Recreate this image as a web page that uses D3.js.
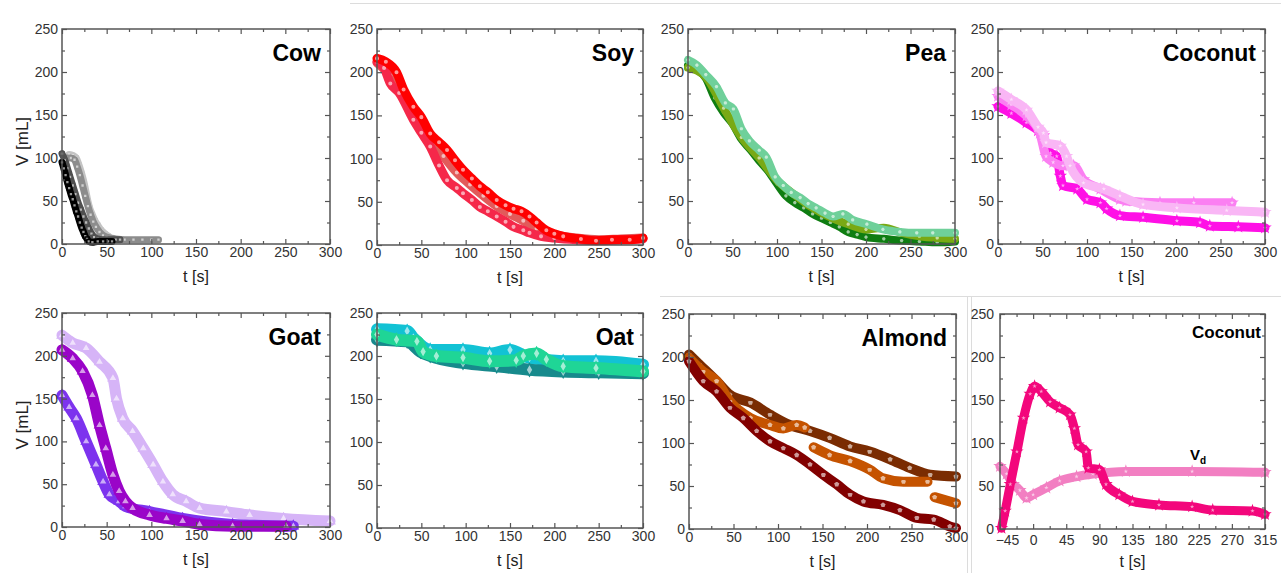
<!DOCTYPE html>
<html>
<head>
<meta charset="utf-8">
<script src="https://cdn.jsdelivr.net/npm/d3@7"></script>
<style>
  body { margin: 0; background: #fff; }
  svg { display: block; }
  text { font-family: Arial, "Liberation Sans", sans-serif; }
</style>
</head>
<body>
<svg id="fig" width="1281" height="573"></svg>
<script>
// ---- tick labels ----
const tTicks = [0, 50, 100, 150, 200, 250, 300];
const tTicksShift = [-45, 0, 45, 90, 135, 180, 225, 270, 315];
const vTicks = [0, 50, 100, 150, 200, 250];

// ---- drained volume V [mL] against time t [s]; each row is [t, V], null V = gap ----
const cowBlack = [[0,95],[2,88],[4,80],[6,72],[8,65],[10,58],[12,52],[14,45],[16,38],[18,32],[20,25],[22,19],[24,14],[26,9],[28,6],[30,3],[34,2],[40,3],[46,3],[52,3],[56,3]];
const cowDark  = [[0,105],[3,98],[6,88],[9,78],[12,68],[15,58],[18,48],[21,40],[24,32],[27,25],[30,18],[33,12],[36,8],[40,6],[45,5],[50,5],[55,5],[60,5],[65,5]];
const cowGray  = [[5,100],[10,100],[14,98],[17,90],[20,80],[23,68],[26,56],[29,44],[32,34],[35,26],[38,20],[42,14],[46,10],[50,8],[60,6],[70,5],[80,5],[90,5],[100,5],[108,5]];
const cowLight = [[8,104],[12,103],[16,100],[19,92],[22,82],[25,70],[27,60],[29,50],[31,42],[34,34],[37,27],[40,22],[44,16],[48,12],[52,9]];

const soyMid   = [[0,211],[15,196],[30,172],[45,150],[60,124],[75,103],[90,84],[105,70],[120,57],[135,45],[150,36],[165,28],[180,19],[200,12],[225,8],[250,6],[275,7],[300,8]];
const soyLow   = [[0,212],[8,205],[15,187],[25,176],[41,145],[50,130],[60,114],[70,92],[79,75],[90,66],[97,60],[107,52],[116,44],[125,39],[135,33],[145,27],[154,21],[165,17],[172,14],[185,10],[200,8],[225,6],[250,5],[275,6],[300,7]];
const soyHigh  = [[0,216],[10,212],[22,200],[30,180],[41,160],[50,148],[60,129],[70,119],[79,110],[88,98],[97,87],[107,77],[116,68],[125,61],[135,52],[145,46],[154,42],[163,39],[172,33],[180,26],[191,17],[200,13],[210,10],[230,7],[247,5],[265,6],[285,6],[300,8]];

const peaDark  = [[0,208],[10,203],[20,193],[30,170],[40,153],[50,140],[60,122],[70,110],[80,97],[90,85],[100,70],[110,56],[120,48],[130,42],[140,35],[150,30],[160,25],[170,20],[180,14],[190,11],[200,8],[220,6],[240,4],[260,3],[280,2],[300,3]];
const peaOlive = [[0,205],[20,194],[40,158],[60,124],[80,100],[100,74],[120,57],[140,42],[160,31],[180,23],[200,17],[220,19],[240,13],[260,9],[280,7],[300,6]];
const peaMint  = [[0,214],[10,208],[20,197],[32,183],[42,164],[51,157],[60,134],[69,120],[80,109],[88,101],[98,78],[107,68],[116,60],[126,54],[135,47],[144,42],[154,36],[163,32],[174,35],[185,28],[201,23],[219,17],[238,14],[257,13],[275,13],[300,13]];

const cocoMag  = [[0,160],[15,152],[32,141],[45,132],[51,126],[54,114],[59,106],[66,102],[70,79],[73,68],[89,64],[100,52],[115,48],[122,41],[137,33],[163,31],[201,27],[227,25],[238,21],[270,20],[300,19]];
const cocoPink = [[0,172],[15,162],[32,149],[47,129],[54,102],[62,95],[73,91],[85,91],[96,75],[115,64],[137,52],[144,50],[182,48],[220,48],[263,48]];
const cocoPale = [[0,178],[15,168],[32,156],[45,136],[51,129],[54,118],[70,114],[77,102],[81,91],[96,71],[119,64],[137,56],[163,46],[201,42],[257,39],[300,37]];

const goatPale   = [[0,224],[12,215],[27,209],[42,193],[57,174],[61,150],[68,127],[79,112],[91,92],[102,73],[113,53],[124,38],[139,30],[154,22],[184,18],[210,14],[248,10],[300,7]];
const goatPurple = [[0,207],[12,197],[23,182],[34,154],[42,119],[49,92],[57,61],[64,42],[71,30],[79,22],[98,14],[117,10],[135,7],[154,3],[191,1],[251,1]];
const goatViolet = [[0,154],[8,140],[16,127],[27,100],[38,73],[46,53],[53,38],[64,30],[71,24],[98,18],[135,10],[191,3],[259,1]];

const oatCyan  = [[0,231],[34,229],[41,221],[60,207],[97,207],[127,203],[150,207],[172,198],[210,194],[247,194],[300,190]];
const oatTeal  = [[0,219],[34,217],[49,205],[60,200],[97,192],[135,188],[172,184],[210,182],[250,181],[300,180]];
const oatGreen = [[0,225],[22,219],[45,217],[52,205],[67,200],[97,198],[127,194],[157,195],[165,200],[180,203],[191,196],[210,188],[247,186],[300,182]];

const almondBrown  = [[0,203],[12,191],[31,172],[46,156],[69,147],[91,133],[113,121],[136,114],[158,106],[181,96],[203,90],[226,81],[248,71],[271,63],[300,61]];
const almondOrange = [[0,199],[16,183],[31,172],[46,148],[69,129],[91,121],[106,117],[121,121],[130,118],[136,null],[140,95],[158,86],[181,79],[203,69],[218,59],[241,55],[268,55],[272,null],[276,37],[300,30]];
const almondRed    = [[0,195],[16,172],[31,160],[46,141],[61,129],[76,114],[91,102],[106,94],[121,86],[136,75],[151,63],[166,52],[181,40],[196,32],[218,28],[237,22],[256,13],[275,11],[293,3],[300,1]];

const cocoRunT = [[-43,1],[-38,21],[-31,52],[-22,90],[-13,129],[-4,157],[2,166],[11,160],[23,148],[36,141],[50,133],[56,117],[61,98],[72,90],[75,71],[90,69],[99,52],[117,40],[135,32],[171,28],[216,26],[244,22],[298,21],[315,17]];
const cocoVd   = [[-45,73],[-36,64],[-27,52],[-18,45],[-9,36],[0,40],[18,48],[36,56],[59,61],[81,64],[126,67],[216,67],[315,66]];
const vdLabelAt = [213, 80];

// ---- symbols ----
function polygon(n, rot) {
  return {
    draw(ctx, size) {
      const r = Math.sqrt(size / (0.5 * n * Math.sin(2 * Math.PI / n)));
      for (let i = 0; i < n; i++) {
        const a = rot + i * 2 * Math.PI / n;
        const px = r * Math.sin(a), py = -r * Math.cos(a);
        if (i === 0) ctx.moveTo(px, py); else ctx.lineTo(px, py);
      }
      ctx.closePath();
    }
  };
}
const symHex = polygon(6, Math.PI / 6);
const symPent = polygon(5, 0);

// ---- panels ----
const panels = [
  { title: "Cow", box: [62, 330, 29, 244], yLabel: true, band: 7, sym: d3.symbolSquare,
    series: [[cowLight, "#c4c4c4"], [cowGray, "#8c8c8c"], [cowDark, "#505050"], [cowBlack, "#000000"]] },
  { title: "Soy", box: [377, 643, 29, 245], band: 9, sym: d3.symbolCircle,
    series: [[soyMid, "#e25a5a"], [soyLow, "#f5284a"], [soyHigh, "#ff0000"]] },
  { title: "Pea", box: [688, 955, 29, 244], band: 8, sym: symHex,
    series: [[peaDark, "#0f7d12"], [peaOlive, "#79a915"], [peaMint, "#6fd09a"]] },
  { title: "Coconut", box: [998, 1265, 29, 244], band: 9, sym: d3.symbolStar,
    series: [[cocoMag, "#ff10e6"], [cocoPink, "#fb7ff2"], [cocoPale, "#f9b6f5"]] },
  { title: "Goat", box: [62, 330, 313, 527], yLabel: true, band: 11, sym: d3.symbolTriangle,
    series: [[goatPale, "#d6b4f7"], [goatViolet, "#7d33ee"], [goatPurple, "#9a05c8"]] },
  { title: "Oat", box: [377, 643, 313, 528], band: 12, sym: d3.symbolDiamond,
    series: [[oatCyan, "#12c2d4"], [oatTeal, "#178a8c"], [oatGreen, "#1fd596"]] },
  { title: "Almond", box: [689, 956, 314, 529], band: 10, sym: symPent,
    series: [[almondBrown, "#7a2c02"], [almondOrange, "#c55300"], [almondRed, "#820000"]] },
  { title: "Coconut", box: [1000, 1265, 314, 529], small: true, band: 9, sym: d3.symbolStar,
    xDomain: [-45, 315], xTicks: tTicksShift, xPad: 6, yPad: 6, firstDx: 7,
    series: [[cocoVd, "#f27fc2"], [cocoRunT, "#f3077c"]] }
];

const svg = d3.select("#fig");

// faint frame lines between the sub-figures
const sep = svg.append("g").attr("stroke", "#dcdcdc").attr("stroke-width", 1);
sep.append("line").attr("x1", 350).attr("x2", 1281).attr("y1", 3.5).attr("y2", 3.5);
sep.append("line").attr("x1", 660).attr("x2", 1281).attr("y1", 296.5).attr("y2", 296.5);
sep.append("line").attr("x1", 967.5).attr("x2", 967.5).attr("y1", 296).attr("y2", 573);
sep.append("line").attr("x1", 971.5).attr("x2", 971.5).attr("y1", 296).attr("y2", 573);

const frameCol = "#555";
const tickCol = "#333";

panels.forEach(p => {
  const [x0, x1, y0, y1] = p.box;
  const xd = p.xDomain || [0, 300];
  const xt = p.xTicks || tTicks;
  const x = d3.scaleLinear().domain(xd).range([x0, x1]);
  const y = d3.scaleLinear().domain([0, 250]).range([y1, y0]);
  const g = svg.append("g");

  // measured runs: dense marker band with hollow marker centres
  const line = d3.line()
    .defined(d => d[1] !== null)
    .x(d => x(d[0])).y(d => y(d[1]))
    .curve(d3.curveMonotoneX);
  const sym = d3.symbol().type(p.sym).size(p.band * p.band * 0.3);
  p.series.forEach(([data, col]) => {
    g.append("path").datum(data)
      .attr("d", line)
      .attr("fill", "none")
      .attr("stroke", col)
      .attr("stroke-width", p.band)
      .attr("stroke-linejoin", "round")
      .attr("stroke-linecap", "round");
    g.append("g").selectAll("path")
      .data(data.filter(d => d[1] !== null))
      .join("path")
      .attr("transform", d => `translate(${x(d[0])},${y(d[1])})`)
      .attr("d", sym)
      .attr("fill", "#fff")
      .attr("fill-opacity", 0.6)
      .attr("stroke", col)
      .attr("stroke-width", 1.5);
  });

  // minor tick positions halfway between labelled ticks
  const xStep = xt[1] - xt[0];
  const xMinor = xt.slice(0, -1).map(v => v + xStep / 2);
  const vMinor = vTicks.slice(0, -1).map(v => v + 25);

  const styleAxis = sel => {
    sel.select(".domain").remove();
    sel.selectAll("line").attr("stroke", frameCol).attr("stroke-width", 1.2);
    sel.selectAll("text").attr("fill", tickCol).style("font-size", "14px")
      .style("font-family", 'Arial, "Liberation Sans", sans-serif');
  };

  // bottom / left labelled axes, ticks pointing inward
  const bottom = g.append("g").attr("transform", `translate(0,${y1})`)
    .call(d3.axisBottom(x).tickValues(xt).tickSize(-5).tickPadding(p.xPad || 3).tickFormat(d3.format("d")))
    .call(styleAxis);
  if (p.firstDx) bottom.select(".tick text").attr("dx", p.firstDx);
  g.append("g").attr("transform", `translate(0,${y1})`)
    .call(d3.axisBottom(x).tickValues(xMinor).tickSize(-3).tickFormat(""))
    .call(styleAxis);
  g.append("g").attr("transform", `translate(${x0},0)`)
    .call(d3.axisLeft(y).tickValues(vTicks).tickSize(-5).tickPadding(p.yPad || 4))
    .call(styleAxis);
  g.append("g").attr("transform", `translate(${x0},0)`)
    .call(d3.axisLeft(y).tickValues(vMinor).tickSize(-3).tickFormat(""))
    .call(styleAxis);
  // mirrored top / right ticks
  g.append("g").attr("transform", `translate(0,${y0})`)
    .call(d3.axisTop(x).tickValues(xt).tickSize(-5).tickFormat(""))
    .call(styleAxis);
  g.append("g").attr("transform", `translate(0,${y0})`)
    .call(d3.axisTop(x).tickValues(xMinor).tickSize(-3).tickFormat(""))
    .call(styleAxis);
  g.append("g").attr("transform", `translate(${x1},0)`)
    .call(d3.axisRight(y).tickValues(vTicks).tickSize(-5).tickFormat(""))
    .call(styleAxis);
  g.append("g").attr("transform", `translate(${x1},0)`)
    .call(d3.axisRight(y).tickValues(vMinor).tickSize(-3).tickFormat(""))
    .call(styleAxis);

  // frame
  g.append("rect")
    .attr("x", x0).attr("y", y0).attr("width", x1 - x0).attr("height", y1 - y0)
    .attr("fill", "none").attr("stroke", frameCol).attr("stroke-width", 1.5);

  // title
  g.append("text")
    .attr("x", x1 - (p.small ? 4 : 9))
    .attr("y", y0 + (p.small ? 24 : 32))
    .attr("text-anchor", "end")
    .attr("font-weight", "bold")
    .style("font-size", p.small ? "17px" : "23px")
    .attr("fill", "#000")
    .text(p.title);

  // axis titles
  g.append("text")
    .attr("x", (x0 + x1) / 2)
    .attr("y", y1 + 38)
    .attr("text-anchor", "middle")
    .style("font-size", "16px")
    .attr("fill", "#222")
    .text("t [s]");
  if (p.yLabel) {
    g.append("text")
      .attr("transform", `translate(${x0 - 34},${(y0 + y1) / 2 + 5}) rotate(-90)`)
      .attr("text-anchor", "middle")
      .style("font-size", "17px")
      .attr("fill", "#222")
      .text("V [mL]");
  }

  if (p.small) {
    const lab = g.append("text")
      .attr("x", x(vdLabelAt[0])).attr("y", y(vdLabelAt[1]))
      .attr("font-weight", "bold").style("font-size", "15px").attr("fill", "#000");
    lab.append("tspan").text("V");
    lab.append("tspan").attr("dy", 4).style("font-size", "10px").text("d");
  }
});
</script>
</body>
</html>
